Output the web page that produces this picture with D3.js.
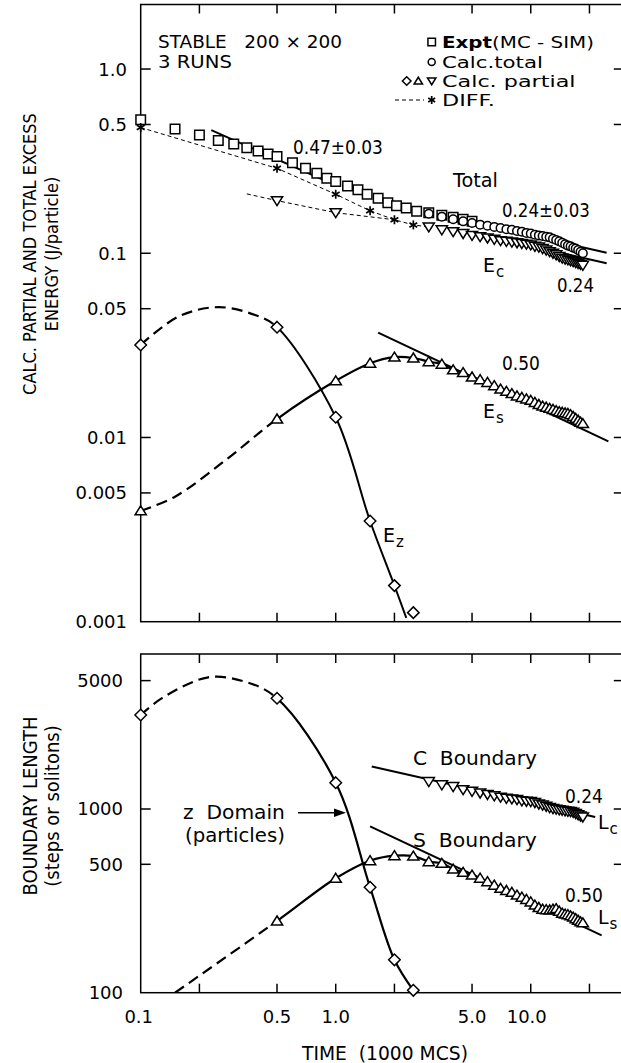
<!DOCTYPE html>
<html><head><meta charset="utf-8">
<script src="https://cdn.jsdelivr.net/npm/d3@7"></script>
<style>body{margin:0;background:#fff}svg{display:block}text{white-space:pre}</style>
</head><body>
<svg id="chart" width="621" height="1063"></svg>
<script>
// ---------- axes ----------
const timeTicks = [0.2, 0.5, 1, 2, 5, 10, 20];
const timeLabelValues = [0.1, 0.5, 1, 5, 10];
const timeLabelText = ["0.1", "0.5", "1.0", "5.0", "10.0"];
const energyTicks = [1, 0.5, 0.1, 0.05, 0.01, 0.005, 0.001];
const energyTickText = ["1.0", "0.5", "0.1", "0.05", "0.01", "0.005", "0.001"];
const lengthTicks = [5000, 1000, 500, 100];
const lengthTickText = ["5000", "1000", "500", "100"];

// ---------- energy panel ----------
// Expt (MC-SIM) total excess energy
const exptT = [0.10,0.15,0.20,0.25,0.30,0.35,0.40,0.45,0.50,0.60,0.70,0.80,0.90,1.00,1.15,1.30,1.45,1.65,1.85,2.05,2.30,2.60,3.00,3.50,4.00,4.50,5.00];
const exptE = [0.530,0.473,0.439,0.409,0.392,0.374,0.359,0.346,0.335,0.310,0.289,0.272,0.255,0.245,0.232,0.221,0.209,0.199,0.188,0.181,0.176,0.169,0.166,0.161,0.157,0.153,0.149];
// dense calculation times
const lateT = [3.0,3.5,4.0,4.5,5.0,5.5,6.0,6.5,7.0,7.5,8.0,8.5,9.0,9.5,10.0,10.5,11.0,11.5,12.0,12.5,13.0,13.5,14.0,14.5,15.0,15.5,16.0,16.5,17.0,17.5,18.0,18.5];
// Calc. total
const totalE = [0.164,0.158,0.153,0.149,0.146,0.143,0.141,0.139,0.137,0.135,0.134,0.132,0.131,0.129,0.128,0.126,0.125,0.124,0.123,0.122,0.120,0.118,0.116,0.114,0.112,0.110,0.109,0.107,0.106,0.104,0.102,0.100];
// Calc. partial, C boundary energy Ec
const ecE = [0.139,0.134,0.131,0.128,0.125,0.123,0.121,0.119,0.117,0.116,0.115,0.114,0.113,0.112,0.111,0.109,0.108,0.106,0.104,0.102,0.100,0.098,0.096,0.094,0.093,0.092,0.091,0.090,0.089,0.088,0.087,0.086];
const ecEarlyT = [0.35, 0.5, 1.0, 2.0];
const ecEarlyE = [0.210, 0.193, 0.166, 0.152];
const ecEarlyMarked = [0.5, 1.0];
// DIFF
const diffT = [0.1, 0.5, 1.0, 1.5, 2.0, 2.5];
const diffE = [0.481, 0.289, 0.209, 0.170, 0.152, 0.1425];
// S boundary energy Es
const esT = [0.1,0.5,1.0,1.5,2.0,2.5].concat(lateT);
const esE = [0.0040,0.0126,0.0203,0.0253,0.0273,0.0270,
  0.0258,0.0250,0.0233,0.0225,0.0213,0.0206,0.0199,0.0191,0.0183,0.0178,0.0173,0.0168,0.0165,0.0162,0.0159,0.0155,
  0.0151,0.0148,0.0146,0.0144,0.0142,0.0140,0.0138,0.0137,0.0136,0.0135,0.0133,0.0130,0.0127,0.0124,0.0121,0.0119];
const esGuideT = [0.15, 0.28];
const esGuideE = [0.00477, 0.00771];
// z domain energy Ez
const ezT = [0.1, 0.5, 1.0, 1.5, 2.0, 2.5];
const ezE = [0.0318, 0.0397, 0.01287, 0.00352, 0.00157, 0.00112];
const ezCurveT = [0.1, 0.156, 0.25, 0.386, 0.5, 1.0, 1.5, 2.0, 2.3];
const ezCurveE = [0.0318, 0.0453, 0.051, 0.0462, 0.0397, 0.01287, 0.00352, 0.00157, 0.00105];
// power-law fits: label, slope, time range, anchor point
const eFitLabel = ["0.47", "0.24", "0.24", "0.50"];
const eFitSlope = [0.47, 0.24, 0.24, 0.50];
const eFitRange = [[0.23, 0.9], [8, 24.5], [8, 24.5], [1.65, 25]];
const eFitAnchor = [[0.233, 0.463], [16.9, 0.110], [16.5, 0.097], [6.43, 0.0188]];

// ---------- boundary length panel ----------
const lzT = [0.1, 0.5, 1.0, 1.5, 2.0, 2.5];
const lzL = [3249, 4006, 1391, 375, 151, 103];
const lzCurveT = [0.1, 0.128, 0.222, 0.343, 0.5, 1.0, 1.5, 2.0, 2.5];
const lzCurveL = [3249, 4000, 5212, 4930, 4006, 1391, 375, 151, 103];
const lcL = [1410,1355,1325,1275,1248,1222,1200,1180,1160,1144,1135,1125,1108,1102,1098,1085,1065,1050,1035,1018,1005,998,990,985,978,972,968,960,945,930,915,905];
const lsT = [0.5,1.0,1.5,2.0,2.5].concat(lateT);
const lsL = [245.6,419.6,523,557,554,
  517,506,471,452,437,420,402,385,370,360,352,340,331,322,312,300,291,285,283,282,285,287,278,271,268,266,262,258,253,248,243,240];
const lsGuideT = [0.15];
const lsGuideL = [100];
const lFitSlope = [0.24, 0.50];
const lFitRange = [[1.53, 21.4], [1.5, 23.1]];
const lFitAnchor = [[5.72, 1243], [5.9, 406]];

// ---------- drawing ----------
const svg = d3.select("#chart");
const FONT = "'DejaVu Sans', sans-serif";
const NARROW = "'Liberation Sans Narrow','DejaVu Sans Condensed','Liberation Sans',sans-serif";
const FS = 19;

const x = d3.scaleLog().domain([0.1, 30]).range([140.7, 623.8]);
const yE = d3.scaleLog().domain([0.001, 2.24]).range([621.7, 4.5]);
const yL = d3.scaleLog().domain([100, 6980]).range([992.7, 654]);

const defs = svg.append("defs");
function clip(id, y) {
  const [b, t] = y.range();
  defs.append("clipPath").attr("id", id).append("rect")
    .attr("x", x.range()[0]).attr("y", t).attr("width", x.range()[1] - x.range()[0]).attr("height", b - t);
}
clip("clipE", yE); clip("clipL", yL);
// left/right halves split at t = 0.5 for dashed/solid guide curves
function halfClip(id, y, left) {
  const [b, t] = y.range();
  const xs = x(0.5);
  defs.append("clipPath").attr("id", id).append("rect")
    .attr("x", left ? x.range()[0] : xs).attr("y", t)
    .attr("width", left ? xs - x.range()[0] : x.range()[1] - xs).attr("height", b - t);
}
halfClip("eLeft", yE, true); halfClip("eRight", yE, false);
halfClip("lLeft", yL, true); halfClip("lRight", yL, false);

function frame(y) {
  const [b, t] = y.range();
  const [l, r] = x.range();
  const g = svg.append("g").attr("stroke", "#000").attr("stroke-width", 1.5).attr("fill", "none");
  g.append("rect").attr("x", l).attr("y", t).attr("width", r - l).attr("height", b - t);
  timeTicks.forEach(v => {
    g.append("line").attr("x1", x(v)).attr("x2", x(v)).attr("y1", b).attr("y2", b - 9);
    g.append("line").attr("x1", x(v)).attr("x2", x(v)).attr("y1", t).attr("y2", t + 9);
  });
  return g;
}
function yTicks(y, vals, texts, labelRight) {
  const g = frame(y);
  const [l, r] = x.range();
  vals.forEach((v, i) => {
    const yy = y(v);
    if (Math.abs(yy - y.range()[0]) > 1) {
      g.append("line").attr("x1", l).attr("x2", l + 10).attr("y1", yy).attr("y2", yy);
      g.append("line").attr("x1", r).attr("x2", r - 10).attr("y1", yy).attr("y2", yy);
    }
    svg.append("text").attr("x", labelRight).attr("y", yy).attr("dy", "0.36em")
      .attr("text-anchor", "end").attr("font-family", FONT).attr("font-size", 18).text(texts[i]);
  });
}
yTicks(yE, energyTicks, energyTickText, 127);
yTicks(yL, lengthTicks, lengthTickText, 123);

// line helpers
const pts = (ts, vs) => ts.map((t, i) => [t, vs[i]]);
function path(g, data, y, opts) {
  const gen = d3.line().x(d => x(d[0])).y(d => y(d[1]))
    .curve(opts.curve || d3.curveLinear);
  return g.append("path").attr("d", gen(data)).attr("fill", "none")
    .attr("stroke", "#000").attr("stroke-width", opts.w || 2)
    .attr("stroke-dasharray", opts.dash || null);
}
function fit(g, y, slope, range, anchor) {
  const f = t => anchor[1] * Math.pow(t / anchor[0], -slope);
  path(g, [[range[0], f(range[0])], [range[1], f(range[1])]], y, { w: 2 });
}

// markers
function marker(g, kind, cx, cy, s) {
  const h = s / 2;
  let p;
  if (kind === "square") p = `M${cx - h},${cy - h}h${s}v${s}h${-s}Z`;
  else if (kind === "diamond") p = `M${cx},${cy - h * 1.15}L${cx + h * 1.15},${cy}L${cx},${cy + h * 1.15}L${cx - h * 1.15},${cy}Z`;
  else if (kind === "up") p = `M${cx},${cy - h}L${cx + h * 1.12},${cy + h * 0.8}L${cx - h * 1.12},${cy + h * 0.8}Z`;
  else if (kind === "down") p = `M${cx},${cy + h}L${cx + h * 1.12},${cy - h * 0.8}L${cx - h * 1.12},${cy - h * 0.8}Z`;
  if (kind === "circle") {
    g.append("circle").attr("cx", cx).attr("cy", cy).attr("r", h)
      .attr("fill", "#fff").attr("stroke", "#000").attr("stroke-width", 1.5);
  } else if (kind === "star") {
    const sg = g.append("g").attr("stroke", "#000").attr("stroke-width", 1.7);
    [90, 30, -30].forEach(a => {
      const r = a * Math.PI / 180, dx = Math.cos(r) * h, dy = Math.sin(r) * h;
      sg.append("line").attr("x1", cx - dx).attr("y1", cy - dy).attr("x2", cx + dx).attr("y2", cy + dy);
    });
  } else {
    g.append("path").attr("d", p).attr("fill", "#fff").attr("stroke", "#000").attr("stroke-width", 1.5);
  }
}
function markers(g, kind, data, y, s) {
  data.forEach(d => marker(g, kind, x(d[0]), y(d[1]), s));
}

// ----- energy panel contents -----
const gE = svg.append("g").attr("clip-path", "url(#clipE)");
// thin dashed guides: DIFF and early Ec
path(gE, pts(diffT, diffE).concat([[lateT[0], ecE[0]]]), yE, { w: 1, dash: "4,3" });
path(gE, pts(ecEarlyT, ecEarlyE), yE, { w: 1, dash: "4,3" });
// Es curve: dashed before t = 0.5, solid after
const esCurve = pts([esT[0]].concat(esGuideT, esT.slice(1)), [esE[0]].concat(esGuideE, esE.slice(1)));
path(gE.append("g").attr("clip-path", "url(#eLeft)"), esCurve, yE, { w: 2.2, dash: "11,6", curve: d3.curveCatmullRom });
path(gE.append("g").attr("clip-path", "url(#eRight)"), esCurve, yE, { w: 2.2, curve: d3.curveCatmullRom });
// Ez curve
const ezCurve = pts(ezCurveT, ezCurveE);
path(gE.append("g").attr("clip-path", "url(#eLeft)"), ezCurve, yE, { w: 2.2, dash: "11,6", curve: d3.curveCatmullRom });
path(gE.append("g").attr("clip-path", "url(#eRight)"), ezCurve, yE, { w: 2, curve: d3.curveCatmullRom });
// fits
eFitSlope.forEach((s, i) => fit(gE, yE, s, eFitRange[i], eFitAnchor[i]));
// markers
const gEm = svg.append("g");
markers(gEm, "square", pts(exptT, exptE), yE, 9.5);
markers(gEm, "circle", pts(lateT, totalE), yE, 8.5);
markers(gEm, "down", pts(ecEarlyT, ecEarlyE).filter(d => ecEarlyMarked.includes(d[0])), yE, 10);
markers(gEm, "down", pts(lateT, ecE), yE, 10);
markers(gEm, "star", pts(diffT, diffE), yE, 9);
markers(gEm, "up", pts(esT, esE), yE, 10);
markers(gEm, "diamond", pts(ezT, ezE), yE, 10);

// ----- boundary panel contents -----
const gL = svg.append("g").attr("clip-path", "url(#clipL)");
const lzCurve = pts(lzCurveT, lzCurveL);
path(gL.append("g").attr("clip-path", "url(#lLeft)"), lzCurve, yL, { w: 2.2, dash: "11,6", curve: d3.curveCatmullRom });
path(gL.append("g").attr("clip-path", "url(#lRight)"), lzCurve, yL, { w: 2.2, curve: d3.curveCatmullRom });
const lsCurve = pts(lsGuideT.concat(lsT), lsGuideL.concat(lsL));
path(gL.append("g").attr("clip-path", "url(#lLeft)"), lsCurve, yL, { w: 2.2, dash: "11,6", curve: d3.curveCatmullRom });
path(gL.append("g").attr("clip-path", "url(#lRight)"), lsCurve, yL, { w: 2.2, curve: d3.curveCatmullRom });
lFitSlope.forEach((s, i) => fit(gL, yL, s, lFitRange[i], lFitAnchor[i]));
const gLm = svg.append("g");
markers(gLm, "diamond", pts(lzT, lzL), yL, 10);
markers(gLm, "down", pts(lateT, lcL), yL, 10);
markers(gLm, "up", pts(lsT, lsL), yL, 10);

// ----- text -----
// width: stretch or squeeze the glyphs horizontally to the given width
function label(txt, xx, yy, width, opts = {}) {
  const t = svg.append("text").attr("x", xx).attr("y", yy).attr("dy", "0.36em")
    .attr("font-family", FONT).attr("font-size", opts.size || FS)
    .attr("text-anchor", opts.anchor || "start");
  if (txt) t.text(txt);
  if (opts.parts) opts.parts.forEach(([s, bold]) => t.append("tspan").attr("font-weight", bold ? "bold" : null).text(s));
  if (width) {
    const w = t.node().getComputedTextLength();
    const sx = Math.max(0.8, Math.min(1.35, width / w));
    t.attr("transform", `translate(${xx},0) scale(${sx},1) translate(${-xx},0)`);
  }
  return t;
}
function subLabel(main, sub, xx, yy) {
  const t = label(null, xx, yy);
  t.append("tspan").text(main);
  t.append("tspan").attr("dx", 1).attr("dy", 5).attr("font-size", 15).text(sub);
}

// x labels under the lower panel
timeLabelValues.forEach((v, i) => {
  label(timeLabelText[i], x(v) - (i === 0 ? 2 : i === 4 ? 4 : 0), 1017, null, { anchor: "middle", size: 18 });
});
label("TIME  (1000 MCS)", 302, 1053, 166);

// y titles
function yTitle(lines, cy, size) {
  lines.forEach((s, i) => {
    svg.append("text").attr("transform", `translate(${30 + i * 22},${cy}) rotate(-90)`)
      .attr("dy", "0.36em").attr("text-anchor", "middle").attr("font-family", NARROW)
      .attr("font-size", size).text(s);
  });
}
yTitle(["CALC. PARTIAL AND TOTAL EXCESS", "ENERGY (J/particle)"], 254, 18);
yTitle(["BOUNDARY LENGTH", "(steps or solitons)"], 806, 20);

label("STABLE   200 × 200", 158, 42, 184, { size: 18 });
label("3 RUNS", 158, 62, 74, { size: 18 });
// legend
const lx = 431.7, ltx = 442, LFS = 16.5;
const lrows = [42, 62, 81, 100];
marker(svg, "square", lx, lrows[0], 7.5);
label(null, ltx, lrows[0], 152, { size: LFS, parts: [["Expt", true], ["(MC - SIM)", false]] });
marker(svg, "circle", lx, lrows[1], 7);
label("Calc.total", ltx, lrows[1], 101, { size: LFS });
marker(svg, "diamond", 406.7, lrows[2], 7.5);
marker(svg, "up", 418.3, lrows[2], 7.5);
marker(svg, "down", lx, lrows[2], 7.5);
label("Calc. partial", ltx, lrows[2], 146, { size: LFS });
svg.append("line").attr("x1", 395).attr("x2", 424).attr("y1", lrows[3]).attr("y2", lrows[3])
  .attr("stroke", "#000").attr("stroke-width", 1).attr("stroke-dasharray", "4,3");
marker(svg, "star", lx, lrows[3], 8);
label("DIFF.", ltx, lrows[3], 59, { size: LFS });

label(eFitLabel[0] + "±0.03", 293, 147, 90);
label("Total", 453, 180, 45);
label(eFitLabel[1] + "±0.03", 502, 210, 88);
subLabel("E", "c", 483, 265);
label(eFitLabel[2], 557, 285, 37);
label(eFitLabel[3], 502, 363, 38);
subLabel("E", "s", 483, 411);
subLabel("E", "z", 383, 535);

// lower panel annotations
label("C  Boundary", 413, 758, 124);
label(lFitSlope[0].toFixed(2), 565, 796, 38);
subLabel("L", "c", 598, 822);
label("S  Boundary", 413, 840, 124);
label(lFitSlope[1].toFixed(2), 565, 895, 38);
subLabel("L", "s", 598, 917);
label("z  Domain", 183, 812, 102);
label("(particles)", 185, 835, 100);
svg.append("line").attr("x1", 298).attr("x2", 338).attr("y1", 812.7).attr("y2", 812.7)
  .attr("stroke", "#000").attr("stroke-width", 1.5);
svg.append("path").attr("d", "M346,812.7 L334,808.5 L334,816.9 Z").attr("fill", "#000");
</script>
</body></html>
